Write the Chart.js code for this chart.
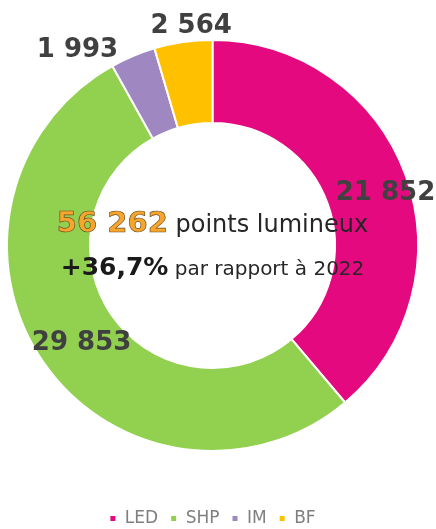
<!DOCTYPE html>
<html>
<head>
<meta charset="utf-8">
<script src="https://cdn.jsdelivr.net/npm/chart.js@4.4.0/dist/chart.umd.min.js"></script>
<style>
    html, body { margin: 0; padding: 0; background: #fff; overflow: hidden; width: 436px; height: 529px; }
    #wrap { position: absolute; left: 0; top: -7px; width: 436px; height: 544px; }
</style>
</head>
<body>
<div id="wrap"><canvas id="lampChart"></canvas></div>
<script>
// Parc d'éclairage par type de lampe
const categories = ['LED', 'SHP', 'IM', 'BF'];
const lampCounts = [21852, 29853, 1993, 2564];
const sliceColors = ['#E5097F', '#92D050', '#9F88C1', '#FFC000'];
const totalLabel = 'points lumineux';
const changeValue = '+36,7%';
const changeLabel = 'par rapport à 2022';

// 56262 -> "56 262"
function fmt(n) {
    return String(n).replace(/\B(?=(\d{3})+(?!\d))/g, ' ');
}

// value labels around the ring
const sliceLabels = {
    id: 'sliceLabels',
    afterDatasetsDraw(chart, args, opts) {
        const ctx = chart.ctx;
        const meta = chart.getDatasetMeta(0);
        ctx.save();
        ctx.font = opts.font;
        ctx.fillStyle = opts.color;
        ctx.textAlign = 'center';
        ctx.textBaseline = 'alphabetic';
        meta.data.forEach((arc, i) => {
            const p = arc.getProps(['x', 'y', 'startAngle', 'endAngle', 'innerRadius', 'outerRadius'], true);
            const mid = (p.startAngle + p.endAngle) / 2;
            const r = (p.innerRadius + p.outerRadius) / 2;
            const nudge = opts.nudges[i] || [0, 0];
            const x = p.x + Math.cos(mid) * r + nudge[0];
            const y = p.y + Math.sin(mid) * r + nudge[1];
            ctx.fillText(fmt(chart.data.datasets[0].data[i]), x, y + opts.capHalf);
        });
        ctx.restore();
    }
};

// total in the hole
const centerText = {
    id: 'centerText',
    afterDatasetsDraw(chart) {
        const ctx = chart.ctx;
        const arc = chart.getDatasetMeta(0).data[0];
        const cx = arc.x, cy = arc.y;
        const total = chart.data.datasets[0].data.reduce((a, b) => a + b, 0);
        const big = fmt(total);

        ctx.save();
        ctx.textBaseline = 'alphabetic';
        ctx.textAlign = 'left';

        // line 1
        const f1a = 'bold 29px "DejaVu Sans"';
        const f1b = '24px "DejaVu Sans"';
        ctx.font = f1a;
        const w1a = ctx.measureText(big).width;
        ctx.font = f1b;
        const w1b = ctx.measureText(' ' + totalLabel).width;
        let x = cx - (w1a + w1b) / 2;
        const y1 = cy - 13.5;
        ctx.font = f1a;
        ctx.lineWidth = 0.7;
        ctx.strokeStyle = '#6E5226';
        ctx.fillStyle = '#F7A52C';
        ctx.fillText(big, x, y1);
        ctx.strokeText(big, x, y1);
        ctx.font = f1b;
        ctx.fillStyle = '#262626';
        ctx.fillText(' ' + totalLabel, x + w1a, y1);

        // line 2
        const f2a = 'bold 25px "DejaVu Sans"';
        const f2b = '20px "DejaVu Sans"';
        ctx.font = f2a;
        const w2a = ctx.measureText(changeValue).width;
        ctx.font = f2b;
        const w2b = ctx.measureText(' ' + changeLabel).width;
        x = cx - (w2a + w2b) / 2;
        const y2 = cy + 29.5;
        ctx.font = f2a;
        ctx.fillStyle = '#1A1A1A';
        ctx.fillText(changeValue, x, y2);
        ctx.font = f2b;
        ctx.fillStyle = '#262626';
        ctx.fillText(' ' + changeLabel, x + w2a, y2);
        ctx.restore();
    }
};

const ctx = document.getElementById('lampChart').getContext('2d');
const chart = new Chart(ctx, {
    type: 'doughnut',
    data: {
        labels: categories,
        datasets: [{
            data: lampCounts,
            backgroundColor: sliceColors,
            borderColor: '#FFFFFF',
            borderWidth: 2
        }]
    },
    options: {
        responsive: true,
        maintainAspectRatio: false,
        animation: false,
        radius: 205.5,
        cutout: '59.6%',
        layout: { padding: { top: 0, right: 11, bottom: 0, left: 0 } },
        plugins: {
            tooltip: { enabled: false },
            legend: {
                position: 'bottom',
                labels: {
                    boxWidth: 7,
                    boxHeight: 7,
                    padding: 12,
                    color: '#7F7F7F',
                    font: { family: 'DejaVu Sans', size: 17 }
                }
            },
            sliceLabels: {
                font: 'bold 26px "DejaVu Sans"',
                color: '#404040',
                capHalf: 9.5,
                nudges: [[19, 1], [4, 2], [-71.5, -47], [2, -60]]
            }
        }
    },
    plugins: [sliceLabels, centerText]
});
</script>
</body>
</html>
